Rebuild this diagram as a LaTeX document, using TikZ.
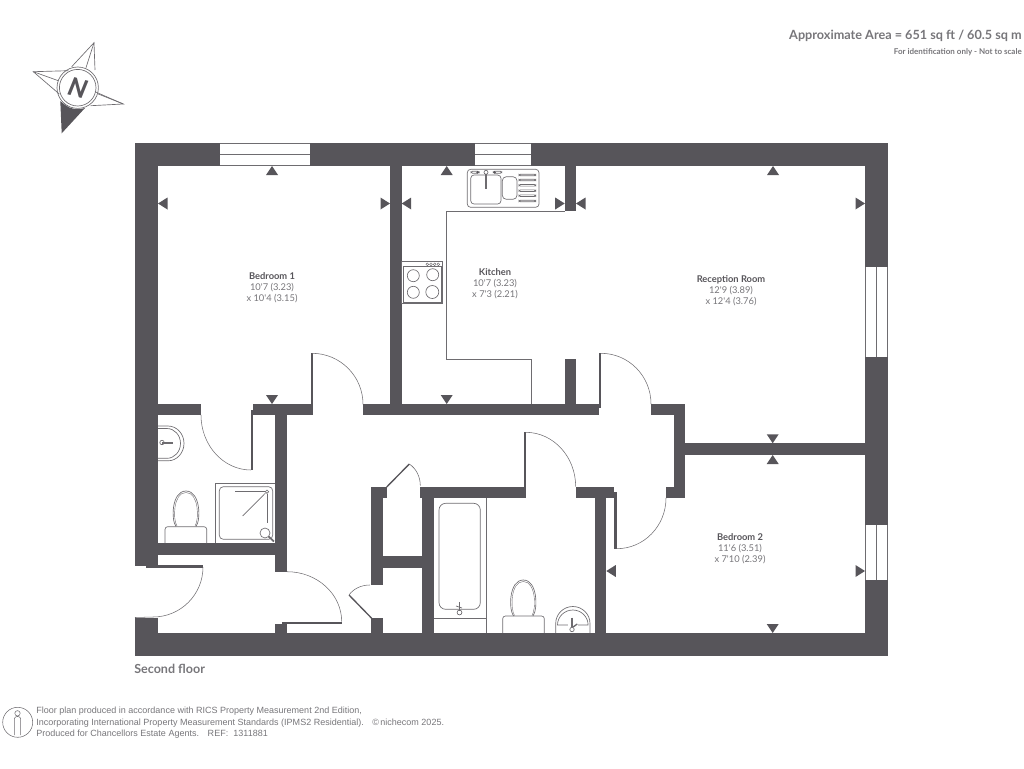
\documentclass[tikz,border=0pt]{standalone}
\usepackage{fontspec}
\usepackage{xcolor}
\newfontfamily\latofont{Lato}
\newfontfamily\latoheavy{Lato Black}
\newfontfamily\arialfont{Liberation Sans}
\definecolor{wallgrey}{HTML}{57555A}
\definecolor{linegrey}{HTML}{6E6C70}
\definecolor{textgrey}{HTML}{77767A}
\usetikzlibrary{positioning}
\tikzset{
  wall/.style={fill=wallgrey},
  leaf/.style={draw=wallgrey, line width=1pt},
  swing/.style={draw=linegrey, line width=.4pt},
  fixture/.style={draw=linegrey, line width=.5pt},
  pane/.style={draw=linegrey, line width=.5pt},
  dimtick/.style={fill=wallgrey},
  roomlabel/.style={align=center, inner sep=0pt, text=textgrey, font=\latofont\fontsize{7}{8.3}\selectfont},
  footnote/.style={anchor=west, inner sep=0pt, text=textgrey, font=\arialfont\fontsize{6.76}{8}\selectfont}
}
\newcommand{\roomname}[1]{{\color{wallgrey}\bfseries #1}}
\begin{document}
\begin{tikzpicture}[x=.75pt, y=-.75pt]
  \useasboundingbox (0,0) rectangle (1024,768);

  % outer walls
  \fill[wall] (135,143) rectangle (220,166);
  \fill[wall] (309.5,143) rectangle (475,166);
  \fill[wall] (531,143) rectangle (888,166);
  \fill[wall] (865,143) rectangle (888,267);
  \fill[wall] (865,356.5) rectangle (888,525);
  \fill[wall] (865,580) rectangle (888,656);
  \fill[wall] (135,633) rectangle (888,656);
  \fill[wall] (135,143) rectangle (158,566);
  \fill[wall] (146,565) rectangle (203,567.5);
  \fill[wall] (135,617.5) rectangle (158,656);

  % inner walls
  \fill[wall] (390,166) rectangle (401.7,415);
  \fill[wall] (564.7,166) rectangle (576,211);
  \fill[wall] (564.5,359) rectangle (576.2,415);
  \fill[wall] (363.3,404) rectangle (599,415.3);
  \fill[wall] (253,404) rectangle (312.7,415.3);
  \fill[wall] (158,404) rectangle (201,415.3);
  \fill[wall] (275.3,404) rectangle (287,571.7);
  \fill[wall] (158,543.3) rectangle (287,554.7);
  \fill[wall] (651,404) rectangle (685.3,415.3);
  \fill[wall] (674,404) rectangle (685.3,498);
  \fill[wall] (666,486.7) rectangle (685.3,498);
  \fill[wall] (685,443.3) rectangle (865,455);
  \fill[wall] (420,486.7) rectangle (524,498);
  \fill[wall] (422.3,487) rectangle (434,633);
  \fill[wall] (575.7,486.7) rectangle (614.3,498);
  \fill[wall] (594.7,498) rectangle (606.3,633);
  \fill[wall] (371.3,486.7) rectangle (383.3,585);
  \fill[wall] (383,486.7) rectangle (386.7,498);
  \fill[wall] (383,556) rectangle (423,568);
  \fill[wall] (371.3,618.3) rectangle (383.3,633);
  \fill[wall] (275.3,623.5) rectangle (287,633);
  \fill[wall] (281.7,621.7) rectangle (341.7,623.5);

  % door leaves
  \fill[wall] (311,353.3) rectangle (312.7,404);
  \fill[wall] (250.8,410) rectangle (253,470);
  \fill[wall] (599,353.3) rectangle (601,408);
  \fill[wall] (523.5,432.3) rectangle (525.7,498);
  \fill[wall] (614.3,492) rectangle (616.7,548.7);
  \draw[leaf] (386.7,487) -- (409.3,464);
  \draw[leaf] (349,595) -- (371.7,618.3);

  % door swings
  \draw[swing] (312,353.3) arc (-90:0:51 and 51);
  \draw[swing] (201,415) arc (180:90:50 and 55);
  \draw[swing] (601,353.3) arc (-90:0:50 and 50.7);
  \draw[swing] (525.7,432.3) arc (-90:0:50 and 54.4);
  \draw[swing] (616.7,548.7) arc (90:0:49.3 and 50.7);
  \draw[swing] (287,571.7) arc (-90:0:54.7 and 50);
  \draw[swing] (203,567) arc (0:90:50 and 50) -- (135,617.5);
  \draw[swing] (409.3,464) arc (-60:0:22 and 25);
  \draw[swing] (349,595) arc (210:270:24 and 20);

  % windows
  \draw[pane] (220,143.3) -- (309.5,143.3) (220,154.3) -- (309.5,154.3) (220,165.7) -- (309.5,165.7);
  \draw[pane] (475,143.3) -- (531,143.3) (475,154.3) -- (531,154.3) (475,165.7) -- (531,165.7);
  \draw[pane] (865.3,267) -- (865.3,356.5) (876.7,267) -- (876.7,356.5) (887.7,267) -- (887.7,356.5);
  \draw[pane] (865.3,525) -- (865.3,580) (876.7,525) -- (876.7,580) (887.7,525) -- (887.7,580);

  % dimension ticks
  \foreach \x/\y in {272/166, 446.7/166, 773/166, 772.7/455}
    \fill[dimtick] (\x,\y) -- ++(-6,9) -- ++(12,0) -- cycle;
  \foreach \x/\y in {272/404, 446.7/404, 772.7/443.3, 772.7/633}
    \fill[dimtick] (\x,\y) -- ++(-6,-9) -- ++(12,0) -- cycle;
  \foreach \x/\y in {158/203.5, 401.7/203.5, 576/203.5, 606.3/571}
    \fill[dimtick] (\x,\y) -- ++(9.5,-6) -- ++(0,12) -- cycle;
  \foreach \x/\y in {390/203.5, 564.7/203.5, 865/203.5, 865/571}
    \fill[dimtick] (\x,\y) -- ++(-9.5,-6) -- ++(0,12) -- cycle;

  % kitchen worktop
  \draw[pane] (564.7,211) -- (446.7,211) -- (446.7,359) -- (531.3,359) -- (531.3,404);

  % sink
  \draw[fixture, rounded corners=2.5] (467.3,169.3) rectangle (539,207.3);
  \draw[fixture, rounded corners=2.5] (470.7,175) rectangle (501,204);
  \draw[fixture, rounded corners=3] (502.3,176.7) rectangle (517,199.3);
  \foreach \y in {175,180,185.3,190.7,195.7,201}
    \draw[fixture, rounded corners=1] (519,\y-.8) rectangle (535.7,\y+.8);
  \draw[fixture] (486,172.3) circle (2);
  \draw[fixture, line width=1pt] (486,174.3) -- (486,189);
  \draw[fixture, rounded corners=1] (471,171.3) rectangle (479.3,173.3);
  \draw[fixture, rounded corners=1] (493.3,171.3) rectangle (501.7,173.3);
  \fill[wallgrey] (477.5,172.3) circle (1.3) (494.7,172.3) circle (1.3);

  % cooker
  \draw[fixture] (401.7,261.3) rectangle (442.7,303.3);
  \draw[fixture] (403.3,266.7) rectangle (441.7,302);
  \draw[fixture] (413.3,275.7) circle (6);
  \draw[fixture] (432.7,274.7) circle (6);
  \draw[fixture] (413.3,292.3) circle (6);
  \draw[fixture] (432.3,292) circle (6.5);
  \foreach \x in {427.3,431,434.7,438.3}
    \draw[fixture, line width=.35pt] (\x,264.3) circle (1.4);

  % en suite basin
  \draw[fixture] (158,426) -- (168,426) arc (-90:90:16 and 17.4) -- (158,460.8);
  \draw[fixture] (158,428.5) -- (167,428.5) arc (-90:90:13.5 and 14.9) -- (158,458.3);
  \draw[fixture, line width=1pt] (162,443) -- (173,443);
  \draw[fixture] (162,442.5) circle (2.2);

  % en suite toilet
  \draw[fixture, rounded corners=2] (165,543.3) -- (165,526.7) -- (206.7,526.7) -- (206.7,543.3);
  \draw[fixture] (176,526.5) .. controls (171,520) and (171.5,491) .. (186,491) .. controls (200.5,491) and (201,520) .. (196,526.5);
  \draw[fixture, line width=.3pt] (177,526) .. controls (172.8,520) and (173,492.5) .. (186,492.5) .. controls (199,492.5) and (199.2,520) .. (195,526);

  % shower
  \draw[fixture] (215.3,543.3) -- (215.3,483.3) -- (275.3,483.3);
  \draw[fixture, rounded corners=3] (219.3,486.7) rectangle (272.7,539.3);
  \draw[fixture] (235.3,491) -- (265,491);
  \draw[fixture] (267,493.5) -- (267,523.3);
  \draw[fixture] (242.7,516) -- (265.5,493);
  \draw[fixture] (267,491.7) circle (1.7);
  \draw[fixture, line width=1.3pt] (268,536) -- (274,541.5);
  \fill[white] (265,533) circle (5);
  \draw[fixture] (265,533) circle (5);

  % bath
  \draw[fixture, rounded corners=5] (439,503.3) rectangle (480.3,609.3);
  \draw[pane] (486,498) -- (486,633);
  \draw[pane] (434,618.3) -- (486,618.3);
  \draw[fixture, line width=1pt] (459.3,602) -- (459.3,611);
  \draw[fixture] (459.5,612.5) circle (2.4);
  \draw[fixture] (456,606) -- (462,608);

  % bathroom toilet
  \draw[fixture, rounded corners=2] (502.7,633) -- (502.7,616) -- (544.3,616) -- (544.3,633);
  \draw[fixture] (513.5,616) .. controls (508.5,609) and (509,580) .. (523.3,580) .. controls (537.6,580) and (538,609) .. (533,616);
  \draw[fixture, line width=.3pt] (514.5,615.5) .. controls (510.3,609) and (510.5,581.5) .. (523.3,581.5) .. controls (536.1,581.5) and (536.3,609) .. (532,615.5);

  % bathroom basin
  \draw[fixture] (555.7,633) -- (555.7,623.5) arc (180:360:17.15 and 17) -- (590,633);
  \draw[fixture] (557.5,625) arc (180:360:15.3 and 15) -- cycle;
  \fill[white] (568,621) rectangle (578,632);
  \draw[fixture, line width=1pt] (572,617.5) -- (572,627);
  \draw[fixture] (572,629.5) circle (2.2);
  \draw[fixture, line width=1pt] (573,627) -- (577.3,624);

  % compass
  \draw[fixture] (71.7,66.7) -- (94,42.7) -- (95,70);
  \draw[fixture] (86,67.7) -- (94,42.7);
  \draw[fixture] (68.3,70.7) -- (33.3,71.7) -- (59.3,94);
  \draw[fixture] (58.3,80.7) -- (33.3,71.7);
  \draw[fixture] (95,91.7) -- (123.3,104) -- (90.7,105.7);
  \draw[fixture] (98.3,94) -- (123.3,104);
  \fill[wallgrey] (60.3,101) -- (61.7,133.3) -- (85,108) arc (70:130:21 and 21) -- cycle;
  \draw[fixture] (77.7,87.7) circle (20.7);
  \draw[fixture] (77.7,87.7) circle (18.3);
  \node[inner sep=0pt, rotate=-15, text=wallgrey] (north) at (77.7,88)
    {\latoheavy\fontsize{19}{19}\selectfont\itshape N};

  % labels
  \node[roomlabel] (bedone) at (272,288) {\roomname{Bedroom 1}\\10'7 (3.23)\\x 10'4 (3.15)};
  \node[roomlabel] (kitchen) at (495,283.3) {\roomname{Kitchen}\\10'7 (3.23)\\x 7'3 (2.21)};
  \node[roomlabel] (reception) at (731,290.7) {\roomname{Reception Room}\\12'9 (3.89)\\x 12'4 (3.76)};
  \node[roomlabel] (bedtwo) at (740,548.7) {\roomname{Bedroom 2}\\11'6 (3.51)\\x 7'10 (2.39)};

  \node[anchor=east, inner sep=0pt, text=textgrey] (area) at (1022,35.5)
    {\latofont\fontsize{9.5}{10}\selectfont\bfseries Approximate Area = 651 sq ft / 60.5 sq m};
  \node[anchor=east, inner sep=0pt, text=textgrey] (idnote) at (1022,52)
    {\latofont\fontsize{6}{6}\selectfont\bfseries For identification only - Not to scale};
  \node[anchor=west, inner sep=0pt, text=textgrey] (floorname) at (134,668.5)
    {\latofont\fontsize{9.4}{10}\selectfont\bfseries Second floor};

  % footer
  \draw[swing] (17.7,722.3) ellipse (15 and 15);
  \draw[swing] (17.5,713.3) circle (2.7);
  \draw[swing, rounded corners=2] (14.3,735) -- (14.3,716.5) -- (20.7,716.5) -- (20.7,735);
  \node[footnote] (creditone) at (36,711.5) {Floor plan produced in accordance with RICS Property Measurement 2nd Edition,};
  \node[footnote] (credittwo) at (36,722.7) {Incorporating International Property Measurement Standards (IPMS2 Residential).};
  \node[footnote] (creditthree) at (36,733.8) {Produced for Chancellors Estate Agents.\hspace{4pt} REF:\hspace{2pt} 1311881};
  \node[footnote] (copyright) at (372,722.7) {\textcopyright\,nichecom 2025.};
\end{tikzpicture}
\end{document}
